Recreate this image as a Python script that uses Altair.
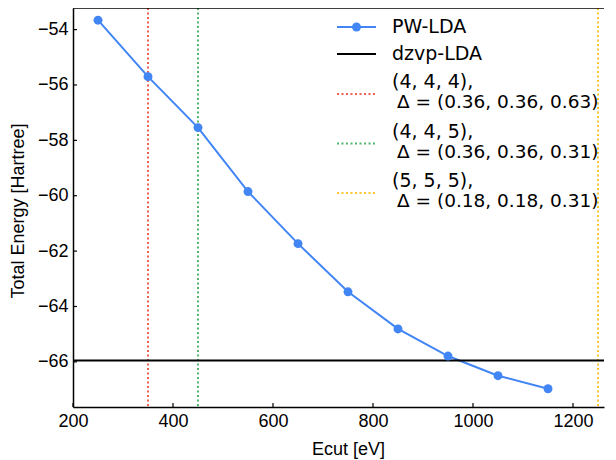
import altair as alt
import pandas as pd

# ---- data ----
ecut = [250, 350, 450, 550, 650, 750, 850, 950, 1050, 1150]
energy = [-53.66, -55.70, -57.54, -59.85, -61.73, -63.47, -64.81, -65.79, -66.50, -66.97]
dzvp_energy = -65.95
vline_x = [350, 450, 1250]
vline_names = ["(4, 4, 4)", "(4, 4, 5)", "(5, 5, 5)"]
vline_deltas = ["Δ = (0.36, 0.36, 0.63)", "Δ = (0.36, 0.36, 0.31)", "Δ = (0.18, 0.18, 0.31)"]
vline_colors = ["#EA4335", "#34A853", "#FBBC05"]
x_ticks = [200, 400, 600, 800, 1000, 1200]
y_ticks = [-66, -64, -62, -60, -58, -56, -54]

BLUE = "#4285F4"
W, H = 531, 399
XDOM = [200, 1262]
YDOM = [-67.63, -53.22]
FONT = "Liberation Sans"
LFONT = "DejaVu Sans"

xs = alt.Scale(domain=XDOM, nice=False, zero=False)
ys = alt.Scale(domain=YDOM, nice=False, zero=False)

df = pd.DataFrame({"ecut": ecut, "energy": energy})
vdf = pd.DataFrame({"x": vline_x, "name": vline_names})

xaxis = alt.Axis(values=x_ticks, title="Ecut [eV]", ticks=False, grid=False, format="d",
                 labelFlush=False, labelOverlap=False,
                 labelPadding=5, labelFontSize=18, titleFontSize=18,
                 labelFont=FONT, titleFont=FONT, labelColor="black", titleColor="black",
                 titleFontWeight="normal", domainColor="black", domainWidth=1.5,
                 titleX=275, titleY=42, titleBaseline="middle")
yaxis = alt.Axis(values=y_ticks, title="Total Energy [Hartree]", ticks=False, grid=False, format="d",
                 labelFlush=False, labelOverlap=False,
                 labelPadding=5, labelFontSize=18, titleFontSize=18,
                 labelFont=FONT, titleFont=FONT, labelColor="black", titleColor="black",
                 titleFontWeight="normal", domainColor="black", domainWidth=1.5,
                 titleAngle=-90, titleX=-55, titleY=H / 2 + 3, titleAlign="center",
                 titleBaseline="middle")

base_line = alt.Chart(df).mark_line(color=BLUE, strokeWidth=2).encode(
    x=alt.X("ecut:Q", scale=xs, axis=xaxis),
    y=alt.Y("energy:Q", scale=ys, axis=yaxis),
)
pts = alt.Chart(df).mark_circle(color=BLUE, size=80, opacity=1).encode(
    x=alt.X("ecut:Q", scale=xs), y=alt.Y("energy:Q", scale=ys)
)
vlines = alt.Chart(vdf).mark_rule(strokeWidth=2, strokeDash=[2, 2.5], opacity=0.85).encode(
    x=alt.X("x:Q", scale=xs),
    color=alt.Color("name:N", scale=alt.Scale(domain=vline_names, range=vline_colors), legend=None),
)
hline = alt.Chart(pd.DataFrame({"y": [dzvp_energy]})).mark_rule(color="black", strokeWidth=2).encode(
    y=alt.Y("y:Q", scale=ys)
)
xt = alt.Chart(pd.DataFrame({"t": x_ticks})).mark_rule(color="black", strokeWidth=1.2).encode(
    x=alt.X("t:Q", scale=xs), y=alt.value(H), y2=alt.value(H - 4)
)
yt = alt.Chart(pd.DataFrame({"t": y_ticks})).mark_rule(color="black", strokeWidth=1.2).encode(
    y=alt.Y("t:Q", scale=ys), x=alt.value(0), x2=alt.value(4)
)
top_border = alt.Chart(pd.DataFrame({"a": [0]})).mark_rule(color="black", strokeWidth=1.5).encode(
    x=alt.value(0), x2=alt.value(W), y=alt.value(0)
)

# ---- legend (manual, pixel layout) ----
LX0, LX1, TX = 264, 303, 319
one = pd.DataFrame({"a": [0]})
leg = []
# PW-LDA
leg.append(alt.Chart(one).mark_rule(color=BLUE, strokeWidth=2).encode(
    x=alt.value(LX0), x2=alt.value(LX1), y=alt.value(19)))
leg.append(alt.Chart(one).mark_circle(color=BLUE, size=80, opacity=1).encode(
    x=alt.value((LX0 + LX1) / 2), y=alt.value(19)))
leg.append(alt.Chart(one).mark_text(text="PW-LDA", align="left", baseline="middle",
                                    font=LFONT, fontSize=19, color="black").encode(
    x=alt.value(TX), y=alt.value(19)))
# dzvp-LDA
leg.append(alt.Chart(one).mark_rule(color="black", strokeWidth=2).encode(
    x=alt.value(LX0), x2=alt.value(LX1), y=alt.value(46)))
leg.append(alt.Chart(one).mark_text(text="dzvp-LDA", align="left", baseline="middle",
                                    font=LFONT, fontSize=19, color="black").encode(
    x=alt.value(TX), y=alt.value(46)))
for i, (nm, dl, c) in enumerate(zip(vline_names, vline_deltas, vline_colors)):
    yy = 86 + 49.5 * i
    leg.append(alt.Chart(one).mark_rule(color=c, strokeWidth=2, strokeDash=[2, 2.5], opacity=0.85).encode(
        x=alt.value(LX0), x2=alt.value(LX1), y=alt.value(yy)))
    leg.append(alt.Chart(one).mark_text(text=nm + ",", align="left", baseline="middle",
                                        font=LFONT, fontSize=19, color="black").encode(
        x=alt.value(TX), y=alt.value(yy - 12)))
    leg.append(alt.Chart(one).mark_text(text=dl, align="left", baseline="middle",
                                        font=LFONT, fontSize=18.5, color="black").encode(
        x=alt.value(TX + 5), y=alt.value(yy + 8)))

chart = alt.layer(base_line, vlines, hline, pts, xt, yt, top_border, *leg).properties(
    width=W, height=H,
    autosize=alt.AutoSizeParams(type="none"),
    padding={"left": 65, "top": 0, "right": 4, "bottom": 53},
).configure(background="white").configure_view(stroke="transparent", strokeWidth=0)

chart.save("out.html", embed_options={"renderer": "svg", "actions": False})
